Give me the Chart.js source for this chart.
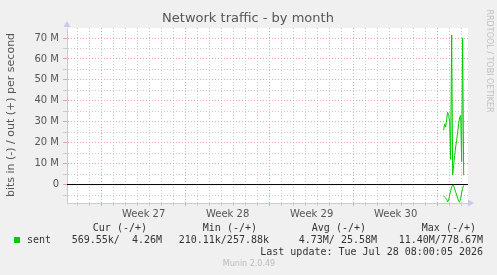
<!DOCTYPE html>
<html>
<head>
<meta charset="utf-8">
<script src="https://cdn.jsdelivr.net/npm/chart.js@4"></script>
<style>
  html, body { margin: 0; padding: 0; background: #f0f0f0; }
</style>
</head>
<body>
<canvas id="chart" width="497" height="275"></canvas>
<script>
// Munin "Network traffic - by month" graph, 2-hour samples near the end of the month

// x values are days on the graph's axis (week boundaries fall on 2, 9, 16, 23, 30)
const sampleDays = [30.50, 30.58, 30.67, 30.75, 30.83, 30.92, 31.00, 31.08, 31.17, 31.25, 31.33,
                    31.42, 31.50, 31.58, 31.67, 31.75, 31.83, 31.92, 32.00, 32.08, 32.17];
// out (+) in Mbit/s
const sentOut = [26, 29, 27.5, 31, 34.5, 33, 30, 12, 71.5, 4.5, 9,
                 14, 18, 21, 25, 29, 32, 33, 11, 70, 4.5];
// in (-) in Mbit/s, drawn below zero
const sentIn = [-5.5, -6, -6.5, -7, -8.3, -7.5, -5, -3, -1.2, -0.3, -0.5,
                -2, -3.5, -5, -6.5, -8, -8.4, -6.5, -4, -1.8, -0.5];

const yTicks = [-5, 0, 5, 10, 15, 20, 25, 30, 35, 40, 45, 50, 55, 60, 65, 70];
const dayLines = [0, 1, 2, 3, 4, 5, 6, 7, 8, 9, 10, 11, 12, 13, 14, 15, 16,
                  17, 18, 19, 20, 21, 22, 23, 24, 25, 26, 27, 28, 29, 30, 31, 32];
const weekStarts = [2, 9, 16, 23, 30];
const weekCenters = [5.5, 12.5, 19.5, 26.5];
const weekLabels = ['Week 27', 'Week 28', 'Week 29', 'Week 30'];

const legendHeaders = ['Cur (-/+)', 'Min (-/+)', 'Avg (-/+)', 'Max (-/+)'];
const legendValues = ['569.55k/  4.26M', '210.11k/257.88k', '4.73M/ 25.58M', '11.40M/778.67M'];

const GREEN = '#00cc00';
const AXIS = '#c8c8ef';
const GRID_MINOR = '#cccccc';
const GRID_MAJOR = '#e8a0a0';
const TXT = '#555555';

function points(ys) {
    return sampleDays.map((d, i) => ({ x: d, y: ys[i] }));
}

const muninFrame = {
    id: 'muninFrame',
    beforeDraw(chart) {
        const { ctx, chartArea: a } = chart;
        ctx.save();
        ctx.fillStyle = '#f0f0f0';
        ctx.fillRect(0, 0, chart.width, chart.height);
        ctx.fillStyle = '#ffffff';
        ctx.fillRect(a.left, a.top, a.right - a.left, a.bottom - a.top);
        ctx.restore();
    },
    afterDraw(chart) {
        const { ctx, chartArea: a } = chart;
        ctx.save();

        // axis arrows
        ctx.fillStyle = AXIS;
        ctx.beginPath();
        ctx.moveTo(a.left, 21);
        ctx.lineTo(a.left - 3.5, 27);
        ctx.lineTo(a.left + 3.5, 27);
        ctx.fill();
        ctx.beginPath();
        ctx.moveTo(a.right + 6, a.bottom);
        ctx.lineTo(a.right, a.bottom - 3.5);
        ctx.lineTo(a.right, a.bottom + 3.5);
        ctx.fill();

        ctx.textBaseline = 'middle';

        // title
        ctx.fillStyle = TXT;
        ctx.font = '13px "DejaVu Sans"';
        ctx.textAlign = 'center';
        ctx.fillText('Network traffic - by month', 248, 19);

        // vertical axis title
        ctx.save();
        ctx.translate(11, 115);
        ctx.rotate(-Math.PI / 2);
        ctx.font = '11px "DejaVu Sans"';
        ctx.fillText('bits in (-) / out (+) per second', 0, 0);
        ctx.restore();

        // rrdtool credit
        ctx.save();
        ctx.translate(489, 61);
        ctx.rotate(Math.PI / 2);
        ctx.fillStyle = '#c0c0c0';
        ctx.font = '8px "DejaVu Sans"';
        ctx.fillText('RRDTOOL / TOBI OETIKER', 0, 0);
        ctx.restore();

        // legend block
        ctx.font = '10px "DejaVu Sans Mono"';
        ctx.fillStyle = '#333333';
        ctx.textAlign = 'right';
        const colRight = [147, 257, 366, 476];
        legendHeaders.forEach((h, i) => ctx.fillText(h, colRight[i], 228));
        const valRight = [162, 269, 377, 483];
        legendValues.forEach((v, i) => ctx.fillText(v, valRight[i], 240));
        ctx.textAlign = 'left';
        ctx.fillText('sent', 27, 240);
        ctx.textAlign = 'right';
        ctx.fillText('Last update: Tue Jul 28 08:00:05 2026', 483, 252);
        ctx.fillStyle = GREEN;
        ctx.fillRect(14, 237, 6, 6);

        ctx.textAlign = 'center';
        ctx.fillStyle = '#bbbbbb';
        ctx.font = '8px "DejaVu Sans"';
        ctx.fillText('Munin 2.0.49', 249, 264);
        ctx.restore();
    }
};

new Chart(document.getElementById('chart'), {
    type: 'line',
    data: {
        datasets: [
            { data: points(sentOut), borderColor: GREEN, borderWidth: 1 },
            { data: points(sentIn), borderColor: GREEN, borderWidth: 1 },
            { data: [{ x: -0.89, y: 0 }, { x: 32.53, y: 0 }], borderColor: '#000000', borderWidth: 1 }
        ]
    },
    options: {
        responsive: false,
        animation: false,
        events: [],
        layout: { padding: { top: 28, right: 29, bottom: 52, left: 0 } },
        elements: { point: { radius: 0 }, line: { tension: 0 } },
        plugins: { legend: { display: false }, tooltip: { enabled: false }, title: { display: false } },
        scales: {
            x: {
                type: 'linear',
                min: -0.89,
                max: 32.53,
                afterFit: s => { s.height = 20; },
                afterBuildTicks: s => {
                    s.ticks = dayLines.concat(weekCenters).map(v => ({ value: v }));
                },
                grid: {
                    color: c => weekCenters.includes(c.tick.value) ? 'rgba(0,0,0,0)'
                        : (weekStarts.includes(c.tick.value) ? GRID_MAJOR : GRID_MINOR),
                    tickColor: c => weekCenters.includes(c.tick.value) ? 'rgba(0,0,0,0)'
                        : (weekStarts.includes(c.tick.value) ? GRID_MAJOR : GRID_MINOR),
                    tickLength: 3
                },
                border: { color: AXIS, dash: [1, 2] },
                ticks: {
                    autoSkip: false,
                    maxRotation: 0,
                    padding: 2,
                    color: TXT,
                    font: { family: 'DejaVu Sans', size: 10 },
                    callback: v => {
                        const i = weekCenters.indexOf(v);
                        return i >= 0 ? weekLabels[i] : '';
                    }
                }
            },
            y: {
                type: 'linear',
                min: -8.82,
                max: 74.8,
                afterFit: s => { s.width = 67; },
                afterBuildTicks: s => { s.ticks = yTicks.map(v => ({ value: v })); },
                grid: {
                    color: c => c.tick.value % 10 === 0 ? GRID_MAJOR : GRID_MINOR,
                    tickColor: c => c.tick.value % 10 === 0 ? GRID_MAJOR : GRID_MINOR,
                    tickLength: 4
                },
                border: { color: AXIS, dash: [1, 2] },
                ticks: {
                    autoSkip: false,
                    padding: 4,
                    color: TXT,
                    font: { family: 'DejaVu Sans', size: 10 },
                    callback: v => v === 0 ? '0' : (v % 10 === 0 ? v + ' M' : '')
                }
            }
        }
    },
    plugins: [muninFrame]
});
</script>
</body>
</html>
